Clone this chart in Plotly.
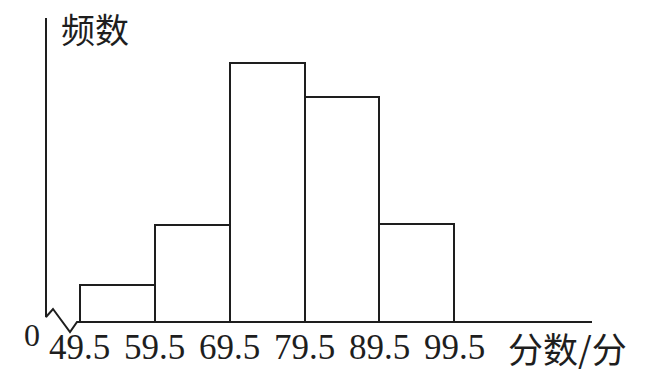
import plotly.graph_objects as go

# ---- data ----
bin_edges = [49.5, 59.5, 69.5, 79.5, 89.5, 99.5]
tick_labels = ["49.5", "59.5", "69.5", "79.5", "89.5", "99.5"]
freq = [5.7, 15.0, 40.0, 34.7, 15.1]
y_title = "频数"
x_title = "分数/分"

W, H = 648, 374
SERIF = "Liberation Serif"
CJK = "Noto Sans CJK SC"
INK = "#1e1e1e"
# pixel mapping of the axes (full-canvas plot area)
SX = 7.49          # px per score unit
X0 = 49.5 - 79.8 / SX
SY = 6.475         # px per frequency unit
AXIS_PX = 322


def px2x(p):
    return X0 + p / SX


def py2y(p):
    return (AXIS_PX - p) / SY


centers = [(a + b) / 2 for a, b in zip(bin_edges[:-1], bin_edges[1:])]
widths = [b - a for a, b in zip(bin_edges[:-1], bin_edges[1:])]

fig = go.Figure()
fig.add_trace(go.Bar(
    x=centers, y=freq, width=widths, base=0,
    marker=dict(color="white", line=dict(color=INK, width=2)),
    hoverinfo="skip", showlegend=False,
))

# axes with break zigzag
ax_px = [(46, 18), (46, 317), (53, 309), (70, 332), (77, 322), (592, 322)]
fig.add_trace(go.Scatter(
    x=[px2x(p[0]) for p in ax_px], y=[py2y(p[1]) for p in ax_px],
    mode="lines", line=dict(color=INK, width=2),
    hoverinfo="skip", showlegend=False,
))

ann = []
for e, t in zip(bin_edges, tick_labels):
    ann.append(dict(x=e, y=0, yshift=-25, text=t, showarrow=False,
                    xanchor="center", yanchor="middle",
                    font=dict(family=SERIF, size=35, color=INK)))
ann.append(dict(x=px2x(32), y=py2y(335), text="0", showarrow=False,
                xanchor="center", yanchor="middle",
                font=dict(family=SERIF, size=32, color=INK)))
ann.append(dict(x=px2x(95), y=py2y(28), text=y_title, showarrow=False,
                xanchor="center", yanchor="middle",
                font=dict(family=CJK, size=34, color=INK)))
ann.append(dict(x=px2x(506), y=py2y(347), text=x_title, showarrow=False,
                xanchor="left", yanchor="middle",
                font=dict(family=CJK, size=35, color=INK)))

fig.update_layout(
    width=W, height=H,
    margin=dict(l=0, r=0, t=0, b=0),
    paper_bgcolor="white", plot_bgcolor="white",
    xaxis=dict(range=[px2x(0), px2x(W)], visible=False, fixedrange=True),
    yaxis=dict(range=[py2y(H), py2y(0)], visible=False, fixedrange=True),
    annotations=ann,
    bargap=0,
)

fig.write_html("out.html")
